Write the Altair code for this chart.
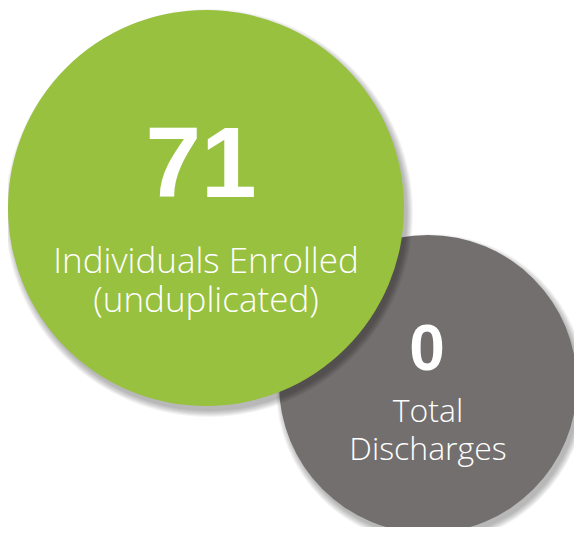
import altair as alt
import pandas as pd

# ---- data ----
values = ["71", "0"]
label_line1 = ["Individuals Enrolled", "Total"]
label_line2 = ["(unduplicated)", "Discharges"]
metrics = ["enrolled", "discharges"]

# ---- layout (page pixel coordinates, drawn through linear scales) ----
circle_cx = [206, 428]
circle_cy = [208, 384]
circle_r = [198, 149]
circle_color = ["#97C13F", "#736F6E"]

value_x = [201, 427]
value_y = [197, 370]
value_size = [100, 64]
line1_y = [273, 422]
label_size = [35, 32]
label_line_height = [39, 38]

W, H = 566, 519
xs = alt.Scale(domain=[8, 8 + W])
ys = alt.Scale(domain=[8, 8 + H], reverse=True)

circles = pd.DataFrame({
    "metric": metrics, "cx": circle_cx, "cy": circle_cy,
    "s": [(2 * r) ** 2 for r in circle_r], "color": circle_color,
})

shadow_rows = []
for m, cx, cy, r in zip(metrics, circle_cx, circle_cy, circle_r):
    for k in range(0, 7):
        shadow_rows.append({"metric": m, "cx": cx + 3, "cy": cy + 5, "s": (2 * (r + k)) ** 2})
shadows = pd.DataFrame(shadow_rows)


def circle_layer(i):
    sh = alt.Chart(shadows[shadows.metric == metrics[i]]).mark_circle(
        color="#000000", opacity=0.045, strokeWidth=0
    ).encode(
        x=alt.X("cx:Q", scale=xs, axis=None),
        y=alt.Y("cy:Q", scale=ys, axis=None),
        size=alt.Size("s:Q", scale=None, legend=None),
    )
    c = alt.Chart(circles[circles.metric == metrics[i]]).mark_circle(
        opacity=1, strokeWidth=0
    ).encode(
        x=alt.X("cx:Q", scale=xs, axis=None),
        y=alt.Y("cy:Q", scale=ys, axis=None),
        size=alt.Size("s:Q", scale=None, legend=None),
        color=alt.Color("color:N", scale=None, legend=None),
    )
    return sh + c


texts = pd.DataFrame({
    "metric": metrics,
    "value": values,
    "label": [a + "\n" + b for a, b in zip(label_line1, label_line2)],
    "vx": value_x, "vy": value_y,
    "lx": circle_cx, "y1": line1_y,
})


def text_layers(i):
    d = texts[texts.metric == metrics[i]]
    base = alt.Chart(d)
    v = base.mark_text(
        font="Liberation Sans", fontWeight="bold", fontSize=value_size[i],
        color="white", align="center", baseline="alphabetic",
    ).encode(
        x=alt.X("vx:Q", scale=xs, axis=None),
        y=alt.Y("vy:Q", scale=ys, axis=None),
        text="value:N",
    )
    t = base.mark_text(
        font="Open Sans", fontWeight=300, fontSize=label_size[i],
        lineBreak="\n", lineHeight=label_line_height[i],
        color="white", align="center", baseline="alphabetic",
    ).encode(
        x=alt.X("lx:Q", scale=xs, axis=None),
        y=alt.Y("y1:Q", scale=ys, axis=None),
        text="label:N",
    )
    return v + t


chart = alt.layer(
    circle_layer(1),
    circle_layer(0),
    text_layers(0),
    text_layers(1),
).properties(
    width=W, height=H, padding=0,
    autosize=alt.AutoSizeParams(type="none"),
    background="white",
).configure_view(stroke=None)

chart.save("out.html", embed_options={"renderer": "svg", "actions": False})
